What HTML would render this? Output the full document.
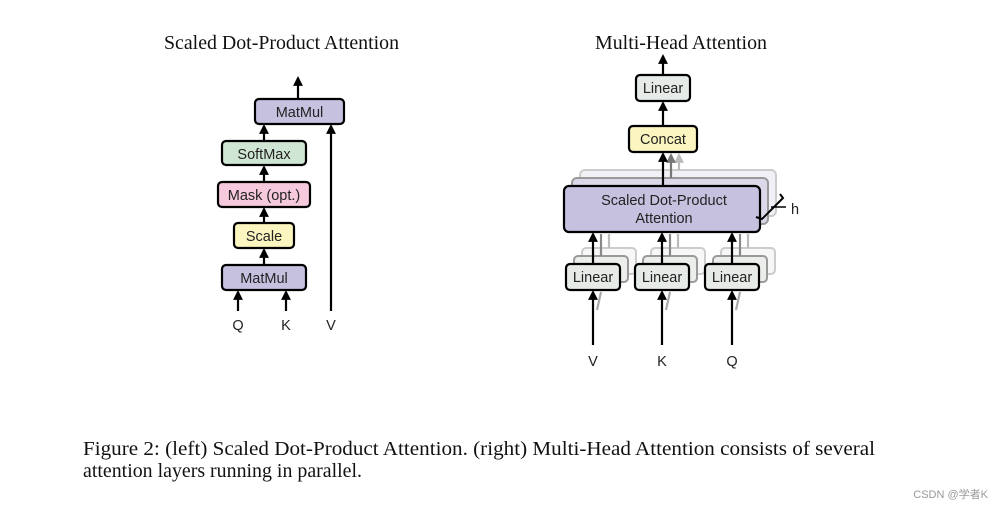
<!DOCTYPE html>
<html><head><meta charset="utf-8"><style>
html,body{margin:0;padding:0;background:#fff;}
svg{display:block;}
.s{font-family:"Liberation Sans",sans-serif;font-size:14.5px;fill:#222;}
.t{font-family:"Liberation Serif",serif;font-size:19.5px;fill:#111;}
</style></head><body>
<svg width="1005" height="509" viewBox="0 0 1005 509" xmlns="http://www.w3.org/2000/svg">
<defs>
<marker id="a" viewBox="0 0 10 10" refX="8" refY="5" markerWidth="4.5" markerHeight="4.5" orient="auto"><path d="M0,0 L10,5 L0,10 z" fill="#000"/></marker>
<marker id="ag" viewBox="0 0 10 10" refX="8" refY="5" markerWidth="4.5" markerHeight="4.5" orient="auto"><path d="M0,0 L10,5 L0,10 z" fill="#777"/></marker>
<marker id="al" viewBox="0 0 10 10" refX="8" refY="5" markerWidth="4.5" markerHeight="4.5" orient="auto"><path d="M0,0 L10,5 L0,10 z" fill="#bbb"/></marker>
</defs>
<text class="t" x="164" y="49" textLength="235" lengthAdjust="spacingAndGlyphs">Scaled Dot-Product Attention</text>
<text class="t" x="595" y="49" textLength="172" lengthAdjust="spacingAndGlyphs">Multi-Head Attention</text>

<g stroke="#000" stroke-width="2.2" fill="none">
<line x1="298" y1="99" x2="298" y2="78" marker-end="url(#a)"/>
<line x1="264" y1="141" x2="264" y2="126" marker-end="url(#a)"/>
<line x1="264" y1="182" x2="264" y2="167" marker-end="url(#a)"/>
<line x1="264" y1="223" x2="264" y2="209" marker-end="url(#a)"/>
<line x1="264" y1="265" x2="264" y2="250" marker-end="url(#a)"/>
<line x1="238" y1="311" x2="238" y2="292" marker-end="url(#a)"/>
<line x1="286" y1="311" x2="286" y2="292" marker-end="url(#a)"/>
<line x1="331" y1="311" x2="331" y2="126" marker-end="url(#a)"/>
</g>
<g stroke="#000" stroke-width="2.2">
<rect x="255" y="99" width="89" height="25" rx="4" fill="#c7c1e0"/>
<rect x="222" y="141" width="84" height="24" rx="4" fill="#cfe6d4"/>
<rect x="218" y="182" width="92" height="25" rx="4" fill="#f6c9dd"/>
<rect x="234" y="223" width="60" height="25" rx="4" fill="#fbf5bf"/>
<rect x="222" y="265" width="84" height="25" rx="4" fill="#c7c1e0"/>
</g>
<text class="s" x="299.5" y="117" text-anchor="middle">MatMul</text>
<text class="s" x="264" y="159" text-anchor="middle">SoftMax</text>
<text class="s" x="264" y="200" text-anchor="middle">Mask (opt.)</text>
<text class="s" x="264" y="241" text-anchor="middle">Scale</text>
<text class="s" x="264" y="283" text-anchor="middle">MatMul</text>
<text class="s" x="238" y="330" text-anchor="middle" font-size="17">Q</text>
<text class="s" x="286" y="330" text-anchor="middle" font-size="17">K</text>
<text class="s" x="331" y="330" text-anchor="middle" font-size="17">V</text>

<g fill="#f1f0f6" stroke="#ccc" stroke-width="2">
<rect x="580" y="170" width="196" height="46" rx="5"/>
</g>
<g fill="#dcd8ea" stroke="#999" stroke-width="2">
<rect x="572" y="178" width="196" height="46" rx="5"/>
</g>
<g stroke="#ccc" stroke-width="2" fill="#f6f7f6">
<rect x="582" y="248" width="54" height="26" rx="4"/>
<rect x="651" y="248" width="54" height="26" rx="4"/>
<rect x="721" y="248" width="54" height="26" rx="4"/>
</g>
<g stroke="#999" stroke-width="2" fill="#eceeec">
<rect x="574" y="256" width="54" height="26" rx="4"/>
<rect x="643" y="256" width="54" height="26" rx="4"/>
<rect x="713" y="256" width="54" height="26" rx="4"/>
</g>
<g stroke-width="2.2" fill="none">
<line x1="609" y1="248" x2="609" y2="234" stroke="#bbb"/>
<line x1="601" y1="256" x2="601" y2="234" stroke="#888"/>
<line x1="678" y1="248" x2="678" y2="234" stroke="#bbb"/>
<line x1="670" y1="256" x2="670" y2="234" stroke="#888"/>
<line x1="748" y1="248" x2="748" y2="234" stroke="#bbb"/>
<line x1="740" y1="256" x2="740" y2="234" stroke="#888"/>
<line x1="679" y1="170" x2="679" y2="155" stroke="#bbb" marker-end="url(#al)"/>
<line x1="671" y1="178" x2="671" y2="155" stroke="#777" marker-end="url(#ag)"/>
<line x1="597" y1="310" x2="601" y2="292" stroke="#aaa"/>
<line x1="666" y1="310" x2="670" y2="292" stroke="#aaa"/>
<line x1="736" y1="310" x2="740" y2="292" stroke="#aaa"/>
</g>
<g stroke="#000" stroke-width="2.2" fill="none">
<line x1="663" y1="75" x2="663" y2="56" marker-end="url(#a)"/>
<line x1="663" y1="126" x2="663" y2="103" marker-end="url(#a)"/>
<line x1="663" y1="186" x2="663" y2="154" marker-end="url(#a)"/>
<line x1="593" y1="264" x2="593" y2="234" marker-end="url(#a)"/>
<line x1="662" y1="264" x2="662" y2="234" marker-end="url(#a)"/>
<line x1="732" y1="264" x2="732" y2="234" marker-end="url(#a)"/>
<line x1="593" y1="345" x2="593" y2="292" marker-end="url(#a)"/>
<line x1="662" y1="345" x2="662" y2="292" marker-end="url(#a)"/>
<line x1="732" y1="345" x2="732" y2="292" marker-end="url(#a)"/>
</g>
<g stroke="#000" stroke-width="2.2">
<rect x="636" y="75" width="54" height="26" rx="4" fill="#e6ebe8"/>
<rect x="629" y="126" width="68" height="26" rx="4" fill="#fbf5bf"/>
<rect x="564" y="186" width="196" height="46" rx="5" fill="#c7c1e0"/>
<rect x="566" y="264" width="54" height="26" rx="4" fill="#e6ebe8"/>
<rect x="635" y="264" width="54" height="26" rx="4" fill="#e6ebe8"/>
<rect x="705" y="264" width="54" height="26" rx="4" fill="#e6ebe8"/>
</g>
<path d="M780,194 L783,198 L762,219 L756,217" stroke="#000" stroke-width="2" fill="none"/>
<line x1="771" y1="207" x2="786" y2="207" stroke="#000" stroke-width="1.5"/>
<text class="s" x="791" y="214" font-size="15">h</text>
<text class="s" x="663" y="93" text-anchor="middle">Linear</text>
<text class="s" x="663" y="144" text-anchor="middle">Concat</text>
<text class="s" x="664" y="205" text-anchor="middle">Scaled Dot-Product</text>
<text class="s" x="664" y="223" text-anchor="middle">Attention</text>
<text class="s" x="593" y="282" text-anchor="middle">Linear</text>
<text class="s" x="662" y="282" text-anchor="middle">Linear</text>
<text class="s" x="732" y="282" text-anchor="middle">Linear</text>
<text class="s" x="593" y="366" text-anchor="middle" font-size="17">V</text>
<text class="s" x="662" y="366" text-anchor="middle" font-size="17">K</text>
<text class="s" x="732" y="366" text-anchor="middle" font-size="17">Q</text>

<text class="t" x="83" y="455" textLength="792" lengthAdjust="spacingAndGlyphs">Figure 2: (left) Scaled Dot-Product Attention. (right) Multi-Head Attention consists of several</text>
<text class="t" x="83" y="477" textLength="279" lengthAdjust="spacingAndGlyphs">attention layers running in parallel.</text>
<text x="988" y="498" text-anchor="end" font-family="Liberation Sans, Noto Sans CJK SC, sans-serif" font-size="11" fill="#999">CSDN @学者K</text>
</svg>
</body></html>
